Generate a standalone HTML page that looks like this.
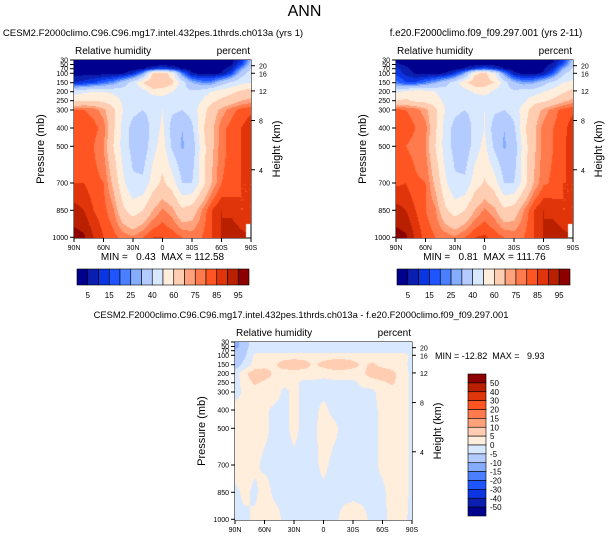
<!DOCTYPE html>
<html><head><meta charset="utf-8">
<style>
body{margin:0;background:#fff;width:609px;height:538px;overflow:hidden;position:relative;font-family:"Liberation Sans",sans-serif;color:#000}
.t{position:absolute;white-space:nowrap}
canvas{position:absolute}
svg{position:absolute;left:0;top:0}
svg text{white-space:pre}
</style></head><body>
<div class="t" style="left:0;width:609px;text-align:center;top:3px;font-size:16px">ANN</div>
<svg id="ov" width="609" height="538"></svg>
<script>
const levels=[30,50,70,100,150,200,250,300,400,500,700,850,1000];
const levelY=[0,4.5,8.7,13.3,22.7,31.7,40.7,50,68,86.3,123,150.3,177.3];
const lats=['90N','80N','70N','60N','50N','40N','30N','20N','10N','0','10S','20S','30S','40S','50S','60S','70S','80S','90S'];
const xTickLabels=['90N','60N','30N','0','30S','60S','90S'];
const pTickLabels=[30,50,70,100,150,200,250,300,400,500,700,850,1000];
const hTickLabels=[20,16,12,8,4];
const hTickP=[55,100,195,355,620];
const rhLevels=[5,10,15,20,25,30,40,50,60,70,75,80,85,90,95];
const rhLabels=[5,15,25,40,60,75,85,95];
const diffLevels=[-50,-40,-30,-20,-15,-10,-5,0,5,10,15,20,30,40,50];
const diffLabels=[50,40,30,20,15,10,5,0,-5,-10,-15,-20,-30,-40,-50];
const colors=['#00008f','#0a1fb0','#0a35e0','#1f55ff','#4a80ff','#86acff','#b3cbff','#d8e8ff','#ffeedc','#ffcdb2','#ffa27c','#ff7a4c','#ff5522','#e0350a','#b82000','#8c0000'];
const rh1=[
[2,2,2,2,2,2,2,2,2,2,2,2,2,2,2,2,3,10,30],
[2,2,2,2,2,2,2,2,2,3,2,2,2,2,2,2,4,15,35],
[2,2,2,2,2,2,2,4,10,15,10,4,2,2,2,3,8,25,40],
[3,3,3,3,3,4,10,25,60,65,55,22,6,3,3,5,15,35,45],
[10,12,15,20,25,35,45,60,70,68,62,45,30,25,25,35,42,48,50],
[45,48,50,50,48,45,42,45,55,55,50,42,42,45,50,55,58,62,65],
[58,60,60,58,55,48,42,42,42,45,42,42,45,50,58,62,65,70,72],
[80,80,78,72,62,50,43,40,44,50,42,40,44,55,65,72,78,82,84],
[82,85,82,78,62,46,36,32,44,52,35,30,38,58,68,78,82,85,88],
[82,82,80,75,60,46,36,33,46,55,38,29,33,55,68,78,82,85,88],
[85,85,82,80,68,52,42,42,55,62,55,40,40,55,70,80,82,85,85],
[92,90,85,82,76,62,55,60,70,76,72,62,65,75,85,90,88,85,85],
[97,96,90,85,82,78,76,80,85,85,83,80,78,80,85,90,95,92,null]];
const rh2=[
[4,3,2,2,2,2,2,2,2,2,2,2,2,2,2,2,4,12,32],
[6,4,3,2,2,2,2,2,3,4,3,2,2,2,2,3,6,18,36],
[12,6,3,2,2,2,3,6,12,18,12,5,2,2,2,4,10,28,42],
[14,8,4,3,3,5,12,28,58,62,52,24,7,3,3,6,18,38,46],
[22,16,16,22,28,36,45,58,66,65,60,45,32,26,28,36,44,50,52],
[48,52,56,54,50,45,42,45,52,54,48,42,42,45,45,50,54,58,64],
[60,62,58,57,54,48,42,42,42,45,42,42,45,48,56,58,62,68,72],
[82,80,78,72,62,50,43,40,44,50,42,40,44,55,65,72,78,82,84],
[80,83,80,77,62,46,36,32,44,50,35,30,38,58,68,77,80,83,88],
[80,80,78,75,60,46,36,33,45,53,38,29,33,55,68,77,80,84,88],
[84,85,81,80,68,52,42,42,55,61,55,40,40,55,70,79,81,85,85],
[92,90,85,80,76,62,55,60,70,76,72,62,65,75,85,90,88,85,85],
[97,96,89,83,80,78,76,80,85,86,83,80,78,80,85,90,94,92,null]];
const diff=[
[-12,-7,-2,-2,-2,-2,-2,-2,-2,-2,-2,-2,-2,-2,-2,-2,-2,-2,-2],
[-12,-7,-2,-2,-2,-2,-2,-2,-2,-2,-2,-2,-2,-2,-2,-2,-2,-2,-2],
[-10,-6,-2,-2,-2,-2,-2,-2,-2,-2,-2,-2,-2,-2,-2,-2,-2,-2,-2],
[-10,-6,1,2,2,2,2,2,2,2,2,2,2,2,2,2,2,2,-1],
[-8,-3,2,3,4,8,9,8,4,7,9,9,7,4,6,3,2,1,-1],
[-3,4,8,8,4,2,2,2,2,1,2,2,2,4,8,9,7,2,-1],
[-2,2,6,4,2,1,1,-1,-1,-1,-1,-1,-1,1,2,4,6,2,-1],
[-2,1,2,2,2,-1,1,-1,-1,-1,-1,-1,-1,-1,-1,2,2,2,-1],
[2,2,2,1,-1,-1,1,-1,-1,1,-1,-1,-1,-1,-1,1,2,2,-1],
[2,2,2,1,-1,-1,1,-1,-1,2,1,-1,-1,-1,-1,1,2,2,-1],
[2,2,1,-1,-1,-1,-1,-1,-1,1,-1,-1,-1,-1,-1,1,2,2,-1],
[-1,1,-1,2,-1,-1,-1,-1,-1,-1,-1,-1,-1,-1,-1,-1,2,2,-1],
[-1,-1,1,2,2,-1,-1,-1,-1,-1,-1,1,2,1,-1,-1,1,1,-1]];

const NS='http://www.w3.org/2000/svg';
const ov=document.getElementById('ov');
function el(tag,attrs,parent){const e=document.createElementNS(NS,tag);for(const k in attrs)e.setAttribute(k,attrs[k]);(parent||ov).appendChild(e);return e;}
function txt(x,y,s,size,anchor,name,rot){const e=el('text',{x:x,y:y,'font-size':size,'text-anchor':anchor||'start','font-family':'Liberation Sans, sans-serif'});


if(rot)e.setAttribute('transform','rotate(-90 '+x+' '+y+')');e.textContent=s;return e;}
function pToY(p){let lp=Math.log(p);for(let i=0;i<levels.length-1;i++){const a=Math.log(levels[i]),b=Math.log(levels[i+1]);if(lp>=a&&lp<=b)return levelY[i]+(levelY[i+1]-levelY[i])*(lp-a)/(b-a);}return lp<Math.log(levels[0])?0:177.3;}
function colorFor(v,lv){let i=0;while(i<lv.length&&v>=lv[i])i++;return colors[i];}
function hex(c){return [parseInt(c.substr(1,2),16),parseInt(c.substr(3,2),16),parseInt(c.substr(5,2),16)];}

function panel(px,py,data,lv,title,tsize,tx,minmax,name){
  const W=177,H=178;
  const cv=document.createElement('canvas');cv.width=W;cv.height=H;cv.style.left=px+'px';cv.style.top=py+'px';
  
  
  document.body.appendChild(cv);
  const ctx=cv.getContext('2d');const img=ctx.createImageData(W,H);
  for(let y=0;y<H;y++){
    let r=0;while(r<levelY.length-2&&y+0.5>levelY[r+1])r++;
    let fy=(y+0.5-levelY[r])/(levelY[r+1]-levelY[r]);fy=Math.max(0,Math.min(1,fy));
    for(let x=0;x<W;x++){
      const gx=(x+0.5)/W*(lats.length-1);let c=Math.min(Math.floor(gx),lats.length-2);const fx=gx-c;
      const v00=data[r][c],v01=data[r][c+1],v10=data[r+1][c],v11=data[r+1][c+1];
      const near=[[v00,v01],[v10,v11]][fy<0.5?0:1][fx<0.5?0:1];
      if(near===null)continue;
      const vals=[[v00,(1-fx)*(1-fy)],[v01,fx*(1-fy)],[v10,(1-fx)*fy],[v11,fx*fy]];
      let s=0,w=0;for(const [v,wt] of vals)if(v!==null){s+=v*wt;w+=wt;}
      const rgb=hex(colorFor(s/w,lv));const k=(y*W+x)*4;
      img.data[k]=rgb[0];img.data[k+1]=rgb[1];img.data[k+2]=rgb[2];img.data[k+3]=255;
    }
  }
  ctx.putImageData(img,0,0);
  const g=el('g',{});
  
  
  el('rect',{x:px,y:py,width:W,height:H,fill:'none',stroke:'#000','stroke-width':1},g);
  txt(tx,py-24,title,tsize,'middle',name+'-title');
  txt(px+1,py-6,'Relative humidity',10,'start',name+'-variable-label');
  txt(px+W-1,py-6,'percent',10,'end',name+'-units-label');
  pTickLabels.forEach(p=>{const y=py+pToY(p);el('line',{x1:px-4,x2:px,y1:y,y2:y,stroke:'#000'},g);
    txt(px-6,y+2.5,String(p),7,'end','pressure-tick-label');});
  xTickLabels.forEach((s,i)=>{const x=px+W*i/(xTickLabels.length-1);el('line',{x1:x,x2:x,y1:py+H,y2:py+H+4,stroke:'#000'},g);el('line',{x1:x,x2:x,y1:py,y2:py+3,stroke:'#000'},g);
    txt(x,py+H+12,s,7,'middle','lat-tick-label');});
  hTickLabels.forEach((h,i)=>{const y=py+pToY(hTickP[i]);el('line',{x1:px+W,x2:px+W+4,y1:y,y2:y,stroke:'#000'},g);
    txt(px+W+8,y+3,String(h),7,'start','height-tick-label');});
  txt(px-30,py+H/2,'Pressure (mb)',11,'middle',name+'-y-axis-title',true);
  txt(px+W+29,py+H/2,'Height (km)',11,'middle',name+'-right-axis-title',true);
  if(minmax)txt(px+W/2,py+H+22,minmax,10,'middle',name+'-min-max');
}
function hbar(x,y,w,h,name){
  const n=colors.length,bw=w/n;
  colors.forEach((c,i)=>{const r=el('rect',{x:x+i*bw,y:y,width:bw,height:h,fill:c,stroke:'#000','stroke-width':0.6});
    
    });
  rhLabels.forEach(v=>{const i=rhLevels.indexOf(v)+1;txt(x+i*bw,y+h+13,String(v),8,'middle',name+'-label');});
}
function vbar(x,y,w,h){
  const n=colors.length,bh=h/n;
  colors.slice().reverse().forEach((c,i)=>{const r=el('rect',{x:x,y:y+i*bh,width:w,height:bh,fill:c,stroke:'#000','stroke-width':0.6});
    
    });
  diffLabels.forEach((v,i)=>{txt(x+w+4,y+(i+1)*bh+3,String(v),8,'start','diff-colorbar-label');});
}
panel(74,60,rh1,rhLevels,'CESM2.F2000climo.C96.C96.mg17.intel.432pes.1thrds.ch013a (yrs 1)',9.6,153,'MIN =   0.43  MAX = 112.58','panel-test');
panel(396,60,rh2,rhLevels,'f.e20.F2000climo.f09_f09.297.001 (yrs 2-11)',9.8,486,'MIN =   0.81  MAX = 111.76','panel-control');
panel(235,342,diff,diffLevels,'CESM2.F2000climo.C96.C96.mg17.intel.432pes.1thrds.ch013a - f.e20.F2000climo.f09_f09.297.001',9.4,301,null,'panel-difference');
txt(435,359,'MIN = -12.82  MAX =   9.93',9,'start','diff-min-max');
hbar(77,269,172,16,'test-colorbar');
hbar(397,269,173,16,'control-colorbar');
vbar(468,374,18,142);
</script>
</body></html>
